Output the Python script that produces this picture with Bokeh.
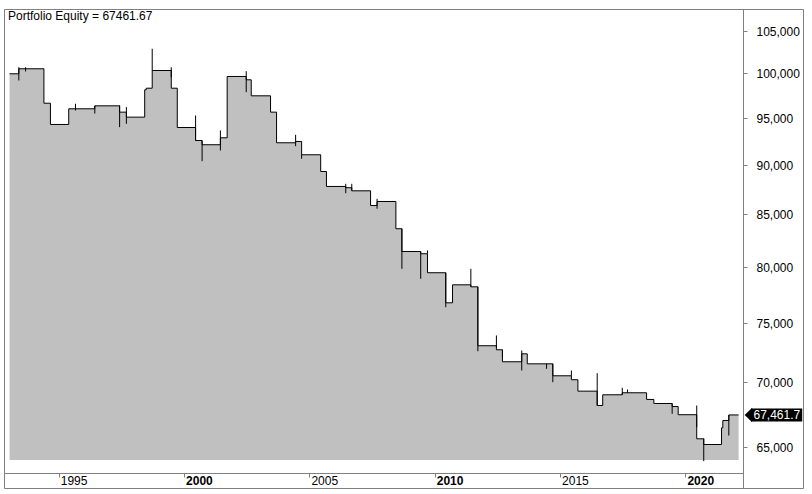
from bokeh.plotting import figure
from bokeh.models import FixedTicker, NumeralTickFormatter, Label, PolyAnnotation
from bokeh.embed import file_html
from bokeh.resources import INLINE

# ---- data (decimal years, portfolio equity) ----
step_dates = [1993.02, 1993.39, 1994.39, 1994.65, 1995.38, 1996.42, 1997.41, 1997.68,
              1998.41, 1998.47, 1998.71, 1999.47, 1999.71, 2000.44, 2000.70, 2001.43,
              2001.70, 2002.46, 2002.66, 2003.43, 2003.67, 2004.43, 2004.67, 2005.43,
              2005.66, 2006.43, 2006.67, 2007.42, 2007.68, 2008.43, 2008.67, 2009.42,
              2009.69, 2010.42, 2010.69, 2011.42, 2011.70, 2012.44, 2012.68, 2013.45,
              2013.67, 2014.69, 2015.43, 2015.69, 2016.46, 2016.68, 2017.46, 2018.43,
              2018.72, 2019.45, 2019.69, 2020.43, 2020.71, 2021.42, 2021.47, 2021.71,
              2022.10]
step_values = [100000, 100580, 96660, 94320, 96040, 96370, 95670, 95120,
               98170, 98350, 100380, 98350, 93990, 92590, 92140, 92880,
               99690, 99310, 97490, 95670, 92350, 92490, 91080, 89340,
               87810, 87680, 87370, 85900, 86300, 83630, 81460, 81250,
               79490, 76780, 78390, 78210, 73070, 72730, 71730, 72390,
               71560, 70580, 70260, 69340, 68200, 69050, 69210, 68680,
               68360, 68120, 67480, 65630, 65200, 66470, 67030, 67461.67,
               67461.67]

spike_dates = [1993.39, 1993.66, 1995.65, 1996.42, 1997.41, 1997.68, 1998.71, 1999.47,
               2000.44, 2000.70, 2001.43, 2002.46, 2004.43, 2004.67, 2006.43, 2006.67,
               2007.68, 2008.67, 2009.42, 2009.69, 2010.42, 2011.42, 2011.70, 2012.44,
               2012.68, 2013.45, 2014.44, 2014.69, 2015.43, 2016.46, 2017.46, 2017.67,
               2019.45, 2020.43, 2020.71, 2021.71]
spike_lows = [99230, 100270, 95850, 95520, 94030, 94390, 100380, 99610,
              92590, 90410, 91530, 97900, 91990, 90660, 87130, 87400,
              85580, 79850, 78940, 81250, 76390, 78210, 72610, 72920,
              72110, 71010, 71150, 70060, 70580, 68200, 69050, 69210,
              67550, 66520, 63960, 65880]
spike_highs = [100760, 100760, 96600, 96370, 96410, 96220, 102930, 100760,
               95300, 92590, 93670, 100300, 93200, 91080, 88080, 88080,
               86570, 83630, 81460, 81560, 79490, 79850, 78210, 73940,
               72730, 72670, 71560, 71560, 71010, 70790, 69610, 69470,
               68360, 68200, 65650, 67460]

fill_base = 64050
last_value = 67461.67
title_text = "Portfolio Equity = 67461.67"
last_label = "67,461.7"
year_ticks = [1995, 2000, 2005, 2010, 2015, 2020]
bold_years = [2000, 2010, 2020]
value_ticks = [65000, 70000, 75000, 80000, 85000, 90000, 95000, 100000, 105000]

# chart window: time span shown, price-axis position and date-strip level
x_start, x_end, price_axis_at = 1992.818, 2024.729, 2022.296
y_low, y_high, date_strip_at = 61902, 107699, 63057

FONT = "Liberation Sans"
GRAY = "#808080"

p = figure(width=804, height=489,
           x_range=(x_start, x_end), y_range=(y_low, y_high),
           y_axis_type="log", y_axis_location="right",
           output_backend="svg", toolbar_location=None,
           min_border_left=4, min_border_top=9,
           min_border_right=0, min_border_bottom=0)
p.background_fill_color = "white"
p.border_fill_color = "white"
p.outline_line_color = GRAY
p.outline_line_width = 1
p.grid.visible = False

# area + step line + spikes
p.varea_step(x=step_dates, y1=[fill_base] * len(step_dates), y2=step_values,
             step_mode="after", fill_color="#C0C0C0")
p.step(step_dates, step_values, mode="after", line_color="black", line_width=1)
p.segment(x0=spike_dates, y0=spike_lows, x1=spike_dates, y1=spike_highs,
          line_color="black", line_width=1)

# y axis (price scale, log) drawn at the right edge of the chart window
ya = p.yaxis[0]
ya.fixed_location = price_axis_at
ya.ticker = FixedTicker(ticks=value_ticks)
ya.formatter = NumeralTickFormatter(format="0,0")
ya.axis_line_color = GRAY
ya.major_tick_line_color = GRAY
ya.minor_tick_line_color = None
ya.major_tick_out = 4
ya.major_tick_in = 0
ya.major_label_standoff = 9
ya.major_label_text_font = FONT
ya.major_label_text_font_size = "12px"
ya.major_label_text_color = "black"

# x axis: the date strip, ticks only; year texts sit right of each tick
xa = p.xaxis[0]
xa.fixed_location = date_strip_at
xa.bounds = (x_start, price_axis_at)
xa.ticker = FixedTicker(ticks=year_ticks)
xa.axis_line_color = GRAY
xa.major_tick_line_color = GRAY
xa.minor_tick_line_color = None
xa.major_tick_out = 4
xa.major_tick_in = 0
xa.major_label_standoff = 0
xa.major_label_text_font_size = "1px"
xa.major_label_overrides = {yr: "" for yr in year_ticks}

for yr in year_ticks:
    p.add_layout(Label(x=yr, y=9.5, x_units="data", y_units="screen", x_offset=1.5,
                       text=str(yr), text_font=FONT, text_font_size="12px",
                       text_font_style="bold" if yr in bold_years else "normal",
                       text_color="black", text_align="left",
                       text_baseline="alphabetic"))

# title inside the plot area
p.add_layout(Label(x=3.5, y=473.2, x_units="screen", y_units="screen",
                   text=title_text, text_font=FONT, text_font_size="12px",
                   text_color="black", text_align="left", text_baseline="alphabetic"))

# last value marker on the price axis
p.add_layout(PolyAnnotation(xs=[740.3, 747.5, 747.5],
                            ys=[last_value, last_value * 1.0081, last_value / 1.0081],
                            xs_units="screen", ys_units="data",
                            fill_color="black", fill_alpha=1.0, line_color="black"))
p.add_layout(Label(x=747, y=last_value, x_units="screen", y_units="data",
                   text=last_label, text_font=FONT, text_font_size="12px",
                   text_color="white", background_fill_color="black",
                   text_align="left", text_baseline="middle", padding=2))

open("out.html", "w").write(file_html(p, INLINE))
